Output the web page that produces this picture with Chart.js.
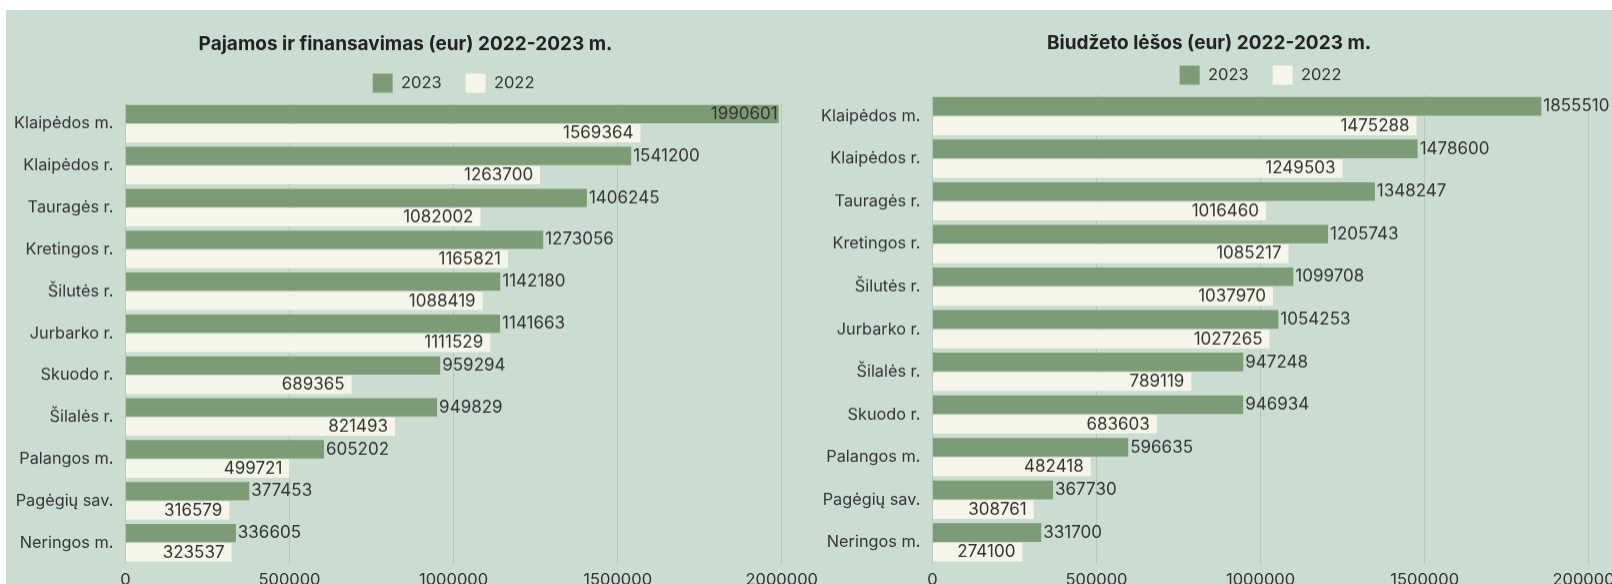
<!DOCTYPE html>
<html>
<head>
<meta charset="utf-8">
<script src="https://cdn.jsdelivr.net/npm/chart.js@4.4.1/dist/chart.umd.min.js"></script>
<style>
  html, body { margin: 0; padding: 0; background: #fff; overflow: hidden; width: 1612px; height: 584px; }
  .panel { position: absolute; left: 6px; top: 10px; width: 1620px; height: 600px; background: #cbddd1; }
  .chart-box { position: absolute; top: 10px; width: 818px; height: 584.5px; }
  #box-left { left: 6px; }
  #box-right { left: 813px; }
</style>
</head>
<body>
<div class="panel"></div>
<div class="chart-box" id="box-left"><canvas id="chart-income"></canvas></div>
<div class="chart-box" id="box-right"><canvas id="chart-budget"></canvas></div>
<script>
// Pajamos ir finansavimas
const incomeLabels = ['Klaipėdos m.', 'Klaipėdos r.', 'Tauragės r.', 'Kretingos r.', 'Šilutės r.', 'Jurbarko r.', 'Skuodo r.', 'Šilalės r.', 'Palangos m.', 'Pagėgių sav.', 'Neringos m.'];
const income2023 = [1990601, 1541200, 1406245, 1273056, 1142180, 1141663, 959294, 949829, 605202, 377453, 336605];
const income2022 = [1569364, 1263700, 1082002, 1165821, 1088419, 1111529, 689365, 821493, 499721, 316579, 323537];

// Biudžeto lėšos
const budgetLabels = ['Klaipėdos m.', 'Klaipėdos r.', 'Tauragės r.', 'Kretingos r.', 'Šilutės r.', 'Jurbarko r.', 'Šilalės r.', 'Skuodo r.', 'Palangos m.', 'Pagėgių sav.', 'Neringos m.'];
const budget2023 = [1855510, 1478600, 1348247, 1205743, 1099708, 1054253, 947248, 946934, 596635, 367730, 331700];
const budget2022 = [1475288, 1249503, 1016460, 1085217, 1037970, 1027265, 789119, 683603, 482418, 308761, 274100];

const xTicks = [0, 500000, 1000000, 1500000, 2000000];

const COLOR_2023 = '#7e9b77';
const COLOR_2022 = '#f5f5e9';
const GRID = '#b5c8bb';
const TEXT = '#333333';

Chart.defaults.font.family = 'Inter, "Noto Sans", sans-serif';
Chart.defaults.color = TEXT;

// simple value labels at the end of bars
const valueLabels = {
    id: 'valueLabels',
    afterDatasetsDraw(chart) {
        const ctx = chart.ctx;
        ctx.save();
        ctx.font = '17px Inter, "Noto Sans", sans-serif';
        ctx.fillStyle = TEXT;
        ctx.textBaseline = 'middle';
        chart.data.datasets.forEach((ds, di) => {
            const meta = chart.getDatasetMeta(di);
            meta.data.forEach((bar, i) => {
                const text = String(ds.data[i]);
                const w = ctx.measureText(text).width;
                if (di === 0 && bar.x + 2 + w < chart.width - 14) {
                    ctx.textAlign = 'left';
                    ctx.fillText(text, bar.x + 2, bar.y);
                } else {
                    ctx.textAlign = 'right';
                    ctx.fillText(text, bar.x - (di === 0 ? 1 : 7), bar.y);
                }
            });
        });
        ctx.restore();
    }
};

function makeChart(canvasId, title, labels, d2023, d2022, pad, rightPad) {
    return new Chart(document.getElementById(canvasId), {
        type: 'bar',
        data: {
            labels: labels,
            datasets: [
                { label: '2023', data: d2023, backgroundColor: COLOR_2023, borderWidth: 0 },
                { label: '2022', data: d2022, backgroundColor: COLOR_2022, borderWidth: 0 }
            ]
        },
        options: {
            indexAxis: 'y',
            responsive: true,
            maintainAspectRatio: false,
            animation: false,
            categoryPercentage: 0.92,
            barPercentage: 0.95,
            layout: { padding: { right: rightPad } },
            plugins: {
                title: {
                    display: true,
                    text: title,
                    color: '#222222',
                    font: { size: 19, weight: 'bold' },
                    padding: pad
                },
                legend: {
                    fullSize: false,
                    labels: { boxWidth: 20, boxHeight: 19, padding: 24, font: { size: 16.5 }, color: TEXT }
                },
                tooltip: { enabled: false }
            },
            scales: {
                x: {
                    min: 0,
                    max: 2000000,
                    afterBuildTicks: axis => { axis.ticks = xTicks.map(v => ({ value: v })); },
                    ticks: { padding: 6, font: { size: 16.5 }, color: TEXT, callback: v => String(v) },
                    grid: { color: GRID, drawTicks: false },
                    border: { display: false }
                },
                y: {
                    afterFit: axis => { axis.width = 119.4; },
                    ticks: { padding: 12, font: { size: 16.3 }, color: TEXT },
                    grid: { display: false, drawTicks: false },
                    border: { display: false }
                }
            }
        },
        plugins: [valueLabels]
    });
}

makeChart('chart-income', 'Pajamos ir finansavimas (eur) 2022-2023 m.', incomeLabels, income2023, income2022, { top: 22.5, bottom: -5.7 }, 19);
makeChart('chart-budget', 'Biudžeto lėšos (eur) 2022-2023 m.', budgetLabels, budget2023, budget2022, { top: 21.4, bottom: -12.6 }, 26);
</script>
</body>
</html>
